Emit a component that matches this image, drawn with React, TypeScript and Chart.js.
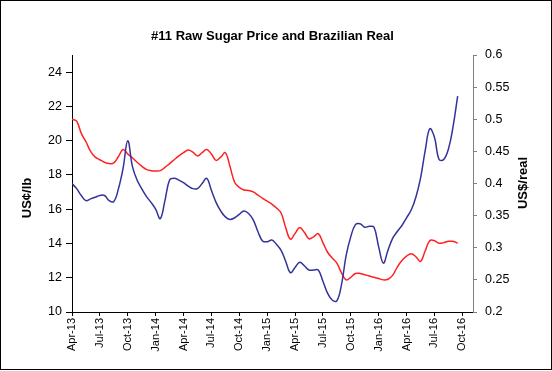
import React, { useEffect, useRef } from "react";
import { Chart, registerables } from "chart.js";

Chart.register(...registerables);

// Quarter tick labels (every 3 months starting Apr-13)
const quarterLabels = [
  "Apr-13", "Jul-13", "Oct-13", "Jan-14", "Apr-14", "Jul-14", "Oct-14",
  "Jan-15", "Apr-15", "Jul-15", "Oct-15", "Jan-16", "Apr-16", "Jul-16", "Oct-16",
];

// Semi-monthly observations starting Apr-13 (two per month)
// #11 Raw sugar price, US cents per lb (left axis)
const sugarPrice = [
  17.5, 17.2, 16.8, 16.5, 16.6, 16.7, 16.8, 16.8, 16.5, 16.45,
  17.2, 18.4, 20.0, 18.5, 17.7, 17.2, 16.75, 16.4, 16.0, 15.45,
  16.5, 17.7, 17.8, 17.7, 17.55, 17.35, 17.2, 17.2, 17.5, 17.8,
  17.1, 16.4, 15.9, 15.55, 15.4, 15.5, 15.7, 15.9, 15.75, 15.38,
  14.7, 14.15, 14.1, 14.2, 13.95, 13.6, 12.95, 12.3, 12.6, 12.9,
  12.7, 12.45, 12.45, 12.45, 11.8, 11.1, 10.7, 10.65, 11.6, 13.3,
  14.4, 15.1, 15.15, 14.95, 15.0, 14.95, 13.8, 12.85, 13.6, 14.3,
  14.7, 15.05, 15.5, 15.95, 16.7, 17.8, 19.4, 20.7, 20.2, 18.9,
  18.9, 19.5, 20.8, 22.6,
];

// Brazilian real, US$ per real (right axis)
const realRate = [
  0.5, 0.497, 0.478, 0.465, 0.45, 0.441, 0.437, 0.433, 0.431, 0.432,
  0.442, 0.453, 0.446, 0.44, 0.433, 0.427, 0.422, 0.42, 0.4195, 0.42,
  0.425, 0.431, 0.437, 0.443, 0.448, 0.452, 0.449, 0.443, 0.448, 0.453,
  0.446, 0.436, 0.441, 0.448, 0.4265, 0.402, 0.394, 0.39, 0.389, 0.387,
  0.382, 0.377, 0.3725, 0.368, 0.362, 0.354, 0.331, 0.3135, 0.322, 0.3315,
  0.324, 0.314, 0.317, 0.322, 0.308, 0.293, 0.284, 0.276, 0.261, 0.25,
  0.254, 0.26, 0.26, 0.258, 0.256, 0.254, 0.252, 0.25, 0.251, 0.257,
  0.27, 0.28, 0.287, 0.2906, 0.286, 0.2786, 0.295, 0.311, 0.311, 0.307,
  0.308, 0.31, 0.31, 0.307,
];

const TITLE = "#11 Raw Sugar Price and Brazilian Real";
const LEFT_TITLE = "US¢/lb";
const RIGHT_TITLE = "US$/real";
const FONT = "'Liberation Sans', Arial, sans-serif";

const decorPlugin = {
  id: "decor",
  afterDraw(chart: any) {
    const ctx = chart.ctx;
    const area = chart.chartArea;
    ctx.save();
    // outer border
    ctx.strokeStyle = "#000";
    ctx.lineWidth = 1;
    ctx.strokeRect(0.5, 0.5, 551, 369);
    // title
    ctx.fillStyle = "#000";
    ctx.font = `bold 13px ${FONT}`;
    ctx.textAlign = "center";
    ctx.textBaseline = "middle";
    ctx.fillText(TITLE, (area.left + area.right) / 2, 36);
    // axis titles (both read bottom-to-top)
    ctx.save();
    ctx.translate(27, 198);
    ctx.rotate(-Math.PI / 2);
    ctx.fillText(LEFT_TITLE, 0, 0);
    ctx.restore();
    ctx.save();
    ctx.translate(523, 183);
    ctx.rotate(-Math.PI / 2);
    ctx.fillText(RIGHT_TITLE, 0, 0);
    ctx.restore();
    ctx.restore();
  },
};

export default function App() {
  const ref = useRef<HTMLCanvasElement | null>(null);

  useEffect(() => {
    document.body.style.margin = "0";
    const canvas = ref.current;
    if (!canvas) return;
    const sugarData = sugarPrice.map((v, k) => ({ x: k / 2, y: v }));
    const realData = realRate.map((v, k) => ({ x: k / 2, y: v }));

    const chart = new Chart(canvas, {
      type: "line",
      data: {
        datasets: [
          {
            label: "Raw Sugar",
            data: sugarData,
            yAxisID: "y",
            borderColor: "#333399",
            borderWidth: 1.5,
            pointRadius: 0,
            tension: 0.4,
          },
          {
            label: "Brazilian Real",
            data: realData,
            yAxisID: "y1",
            borderColor: "#ff2020",
            borderWidth: 1.5,
            pointRadius: 0,
            tension: 0.4,
          },
        ],
      },
      options: {
        responsive: false,
        animation: false,
        devicePixelRatio: 1,
        layout: { padding: { top: 55, left: 0, right: 0, bottom: 0 } },
        plugins: {
          legend: { display: false },
          tooltip: { enabled: false },
          title: { display: false },
        },
        scales: {
          x: {
            type: "linear",
            min: 0,
            max: 43.15,
            afterFit: (s: any) => { s.height = 59; },
            grid: {
              drawOnChartArea: false,
              drawTicks: true,
              tickLength: 4,
              color: "#000",
            },
            border: { display: true, color: "#000", width: 1 },
            ticks: {
              stepSize: 3,
              includeBounds: false,
              autoSkip: false,
              maxRotation: 90,
              minRotation: 90,
              padding: 2,
              color: "#000",
              font: { family: FONT, size: 11 },
              callback: (v: any) => {
                const n = Number(v);
                if (n % 3 !== 0) return "";
                return quarterLabels[n / 3] ?? "";
              },
            },
          },
          y: {
            type: "linear",
            position: "left",
            min: 10,
            max: 25,
            afterFit: (s: any) => { s.width = 72; },
            grid: {
              drawOnChartArea: false,
              drawTicks: true,
              tickLength: 6,
              color: "#000",
            },
            border: { display: true, color: "#000", width: 1 },
            ticks: {
              stepSize: 2,
              includeBounds: false,
              padding: 4,
              color: "#000",
              font: { family: FONT, size: 12.5 },
            },
          },
          y1: {
            type: "linear",
            position: "right",
            min: 0.2,
            max: 0.6,
            afterFit: (s: any) => { s.width = 79; },
            grid: {
              drawOnChartArea: false,
              drawTicks: true,
              tickLength: 4,
              color: "#808080",
            },
            border: { display: true, color: "#808080", width: 1 },
            ticks: {
              stepSize: 0.05,
              padding: 8,
              color: "#000",
              font: { family: FONT, size: 12.5 },
              callback: (v: any) => String(Math.round(Number(v) * 100) / 100),
            },
          },
        },
      },
      plugins: [decorPlugin],
    });
    return () => chart.destroy();
  }, []);

  return (
    <div style={{ width: 552, height: 371 }}>
      <canvas ref={ref} width={552} height={371} style={{ display: "block" }} />
    </div>
  );
}
